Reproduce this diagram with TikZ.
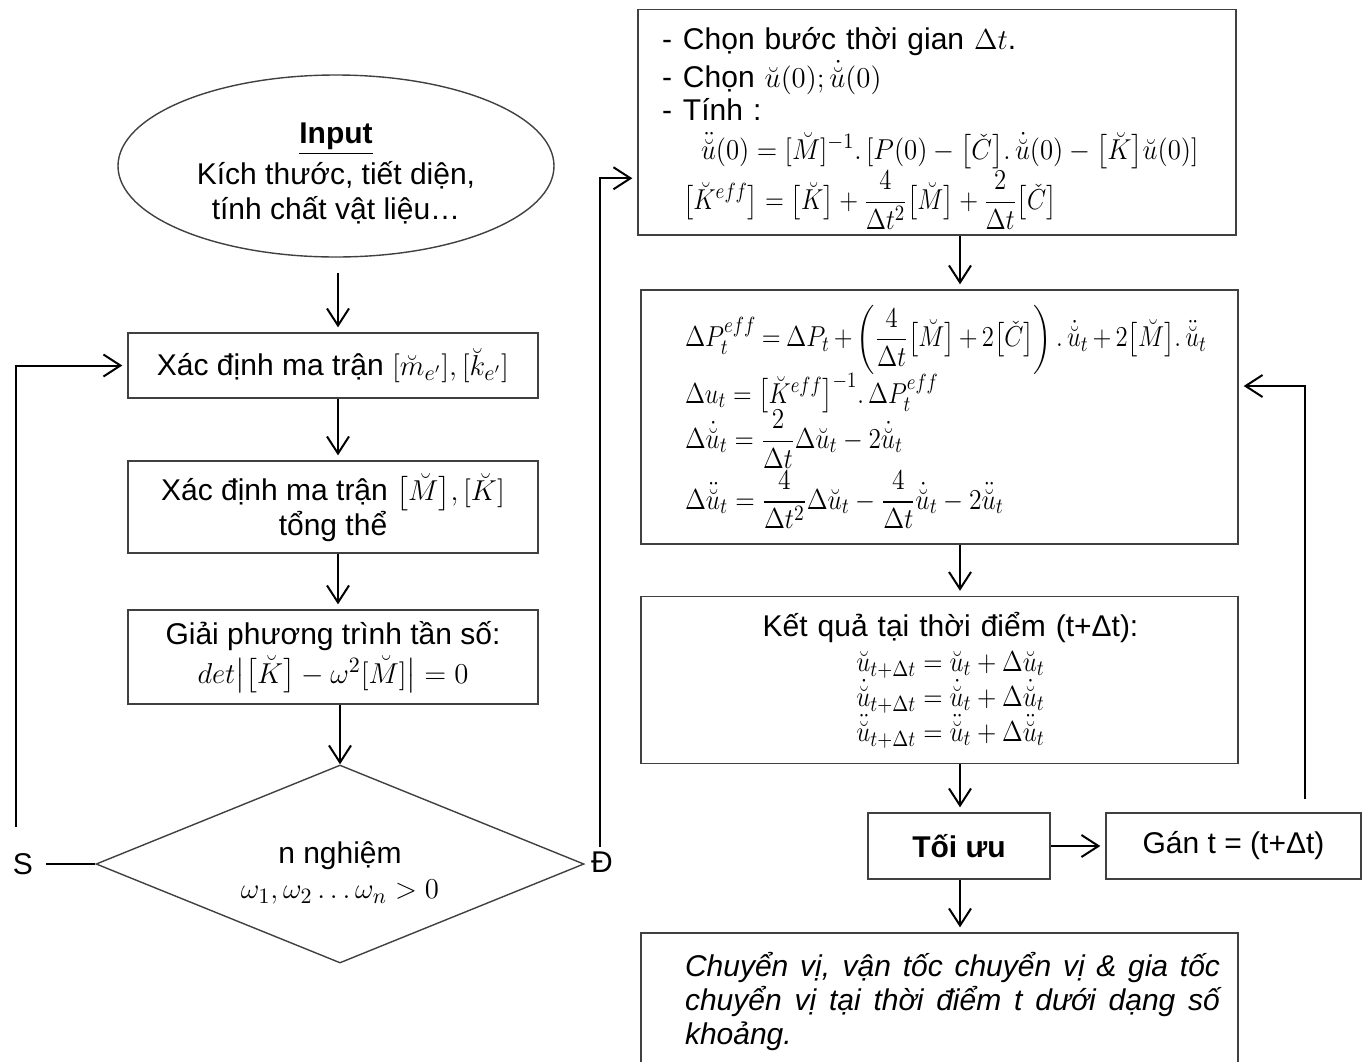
\documentclass[tikz,border=0pt]{standalone}
\usepackage{amsmath}
\usepackage{graphicx}
\usepackage[no-math]{fontspec}
\setmainfont{Liberation Sans}
\usetikzlibrary{shapes.geometric,arrows.meta,calc}
\newcommand{\sqz}[2][0.87]{\scalebox{#1}[1]{$#2$}}
\begin{document}
\begin{tikzpicture}[x=0.5pt,y=-0.5pt,
  every node/.style={font=\fontsize{15}{17.5}\selectfont, text=black},
  box/.style={draw=black!75, line width=0.7pt, rectangle, inner sep=0pt},
  shapebox/.style={draw=black!75, line width=0.7pt, inner sep=0pt, align=center},
  conn/.style={line width=1pt, -{Straight Barb[length=8.5pt,width=11pt]}, shorten >=2.5pt},
  plainline/.style={line width=1pt}]
\useasboundingbox (0,0) rectangle (1368,1061);

% ---------- left column ----------
\node[shapebox, ellipse, minimum width=218pt, minimum height=91pt] (inp) at (336,166)
  {\rule{0pt}{17.7pt}\underline{\textbf{Input}}\\[2pt]Kích thước, tiết diện,\\tính chất vật liệu…};
\node[box, minimum width=205pt, minimum height=32.5pt] (L1) at (333,365.5)
  {Xác định ma trận $[\breve{m}_{e'}],[\breve{k}_{e'}]$};
\node[box, minimum width=205pt, minimum height=46pt, align=center] (L2) at (333,507)
  {\rule{0pt}{14pt}Xác định ma trận \mbox{$\big[\breve{M}\big],[\breve{K}]$}\\tổng thể};
\node[box, minimum width=205pt, minimum height=47pt, align=center] (L3) at (333,657)
  {Giải phương trình tần số:\\[2pt]\mbox{$det\big|\big[\breve{K}\big]-\omega^2[\breve{M}]\big|=0$}};
\node[shapebox, diamond, aspect=2.46, minimum width=244pt, minimum height=99pt] (dec) at (340,864)
  {\rule{0pt}{20pt}n nghiệm\\\mbox{$\omega_1,\omega_2\ldots\omega_n>0$}};
\node (S) at (23,864) {S};
\node (D) at (602,862) {Đ};

% ---------- right column ----------
\node[box, minimum width=299pt, minimum height=112.75pt, inner xsep=12pt, text width=275pt, align=left] (b1) at (937,122.25)
  {\rule{0pt}{17pt}\makebox[10.5pt][l]{-}Chọn bước thời gian $\Delta t$.\\[1.5pt]
   \makebox[10.5pt][l]{-}Chọn \mbox{$\breve{u}(0);\dot{\breve{u}}(0)$}\\[-1pt]
   \makebox[10.5pt][l]{-}Tính :\\[2pt]
   \hspace*{19.5pt}\sqz[0.93]{\ddot{\breve{u}}(0)=[\breve{M}]^{-1}.\,[P(0)-\big[\check{C}\big].\,\dot{\breve{u}}(0)-\big[\breve{K}\big]\breve{u}(0)]}\\
   \hspace*{10.5pt}\sqz[0.86]{\big[\breve{K}^{eff}\big]=\big[\breve{K}\big]+\dfrac{4}{\Delta t^2}\big[\breve{M}\big]+\dfrac{2}{\Delta t}\big[\check{C}\big]}};

\node[box, minimum width=298.5pt, minimum height=127pt, inner xsep=8pt, text width=282.5pt, align=left] (b2) at (939.5,417)
  {\leftskip=14pt
   \mbox{\medmuskip=3mu\thickmuskip=4mu\sqz[0.86]{\Delta P_t^{eff}=\Delta P_t+\left(\dfrac{4}{\Delta t}\big[\breve{M}\big]+2\big[\check{C}\big]\right).\,\dot{\breve{u}}_t+2\big[\breve{M}\big].\,\ddot{\breve{u}}_t}}\\[-1.5pt]
   \mbox{\sqz[0.85]{\Delta u_t=\big[\breve{K}^{eff}\big]^{-1}.\,\Delta P_t^{eff}}}\\[-2.5pt]
   \mbox{\sqz[0.88]{\Delta\dot{\breve{u}}_t=\dfrac{2}{\Delta t}\Delta\breve{u}_t-2\dot{\breve{u}}_t}}\\[0.5pt]
   \mbox{\sqz[0.89]{\Delta\ddot{\breve{u}}_t=\dfrac{4}{\Delta t^2}\Delta\breve{u}_t-\dfrac{4}{\Delta t}\dot{\breve{u}}_t-2\ddot{\breve{u}}_t}}\par};

\node[box, minimum width=298.5pt, minimum height=83.5pt, inner xsep=8pt, text width=282.5pt, align=center] (b3) at (939.5,680)
  {\hspace*{11pt}Kết quả tại thời điểm (t+Δt):\\
   \hspace*{11pt}\mbox{\sqz[0.88]{\breve{u}_{t+\Delta t}=\breve{u}_t+\Delta\breve{u}_t}}\\
   \hspace*{11pt}\mbox{\sqz[0.88]{\dot{\breve{u}}_{t+\Delta t}=\dot{\breve{u}}_t+\Delta\dot{\breve{u}}_t}}\\
   \hspace*{11pt}\mbox{\sqz[0.88]{\ddot{\breve{u}}_{t+\Delta t}=\ddot{\breve{u}}_t+\Delta\ddot{\breve{u}}_t}}};

\node[box, minimum width=91pt, minimum height=33pt] (opt) at (959,846) {\textbf{Tối ưu}};
\node[box, minimum width=127.5pt, minimum height=33pt] (gan) at (1233.5,846) {Gán t = (t+Δt)};

\node[box, minimum width=298.5pt, minimum height=68.5pt, inner xsep=9pt, text width=280.5pt, align=justify,
      font=\fontsize{15}{17}\selectfont\itshape] (res) at (939.5,1001.5)
  {\leftskip=13pt \hyphenpenalty=10000 \tolerance=10000
   Chuyển vị, vận tốc chuyển vị \& gia tốc\linebreak chuyển vị tại thời điểm t dưới dạng số\linebreak khoảng.\par};

% ---------- connectors ----------
\coordinate (lc) at (338,0);
\coordinate (rc) at (960,0);
\coordinate (sup) at (16,827);
\coordinate (dup) at (600,847);
\coordinate (fb) at (1305,799);

\draw[conn, shorten <=7.5pt] (inp.south -| lc) -- (L1.north -| lc);
\draw[conn] (L1.south -| lc) -- (L2.north -| lc);
\draw[conn] (L2.south -| lc) -- (L3.north -| lc);
\draw[conn, shorten >=0pt] (L3.south -| dec.north) -- (dec.north);
\draw[plainline, shorten <=3pt] (S.east) -- (dec.west);
\draw[conn] (sup) |- (L1.west);
\draw[conn] (dup) |- ([yshift=-28pt]b1.west);

\draw[conn] (b1.south -| rc) -- (b2.north -| rc);
\draw[conn] (b2.south -| rc) -- (b3.north -| rc);
\draw[conn] (b3.south -| rc) -- (opt.north -| rc);
\draw[conn] (opt.south -| rc) -- (res.north -| rc);
\draw[conn] (opt.east) -- (gan.west);
\draw[conn] (fb) |- ([yshift=15.5pt]b2.east);
\end{tikzpicture}
\end{document}
